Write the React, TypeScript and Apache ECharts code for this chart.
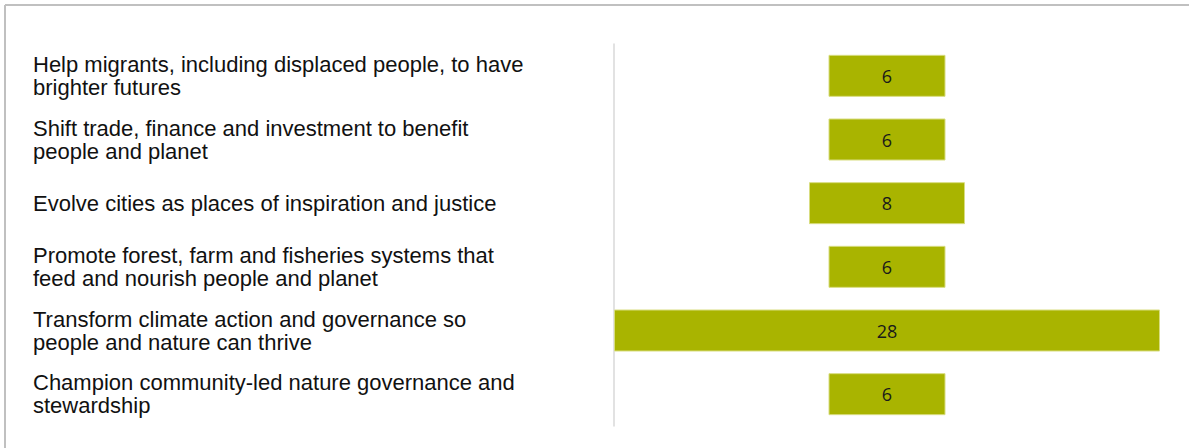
import React, { useEffect, useRef } from "react";
import * as echarts from "echarts";

const categories = [
  "Help migrants, including displaced people, to have\nbrighter futures",
  "Shift trade, finance and investment to benefit\npeople and planet",
  "Evolve cities as places of inspiration and justice",
  "Promote forest, farm and fisheries systems that\nfeed and nourish people and planet",
  "Transform climate action and governance so\npeople and nature can thrive",
  "Champion community-led nature governance and\nstewardship",
];
const values = [6, 6, 8, 6, 28, 6];
const maxValue = 28;

export default function App() {
  const ref = useRef<HTMLDivElement>(null);
  useEffect(() => {
    document.body.style.margin = "0";
    const chart = echarts.init(ref.current!, null, { renderer: "svg" });
    const offsets = values.map((v) => (maxValue - v) / 2);
    chart.setOption({
      animation: false,
      backgroundColor: "#ffffff",
      grid: { left: 614, right: 29, top: 44, bottom: 22 },
      xAxis: {
        type: "value",
        min: 0,
        max: maxValue,
        show: false,
      },
      yAxis: {
        type: "category",
        inverse: true,
        data: categories,
        axisLine: { show: true, lineStyle: { color: "#d9d9d9", width: 1.5 } },
        axisTick: { show: false },
        axisLabel: {
          align: "left",
          margin: 581,
          color: "#111111",
          fontFamily: "'Liberation Sans', Arial, sans-serif",
          fontSize: 22,
          lineHeight: 23,
        },
      },
      series: [
        {
          type: "bar",
          stack: "s",
          data: offsets,
          itemStyle: { color: "transparent" },
          barWidth: 42,
          silent: true,
        },
        {
          type: "bar",
          stack: "s",
          data: values,
          barWidth: 42,
          itemStyle: { color: "#a9b400", borderColor: "#d8dd80", borderWidth: 1 },
          label: {
            show: true,
            position: "inside",
            color: "#1a1a1a",
            fontFamily: "'Open Sans', 'Noto Sans', sans-serif",
            fontSize: 18,
            fontWeight: 500,
          },
        },
      ],
      graphic: [
        { type: "line", shape: { x1: 5, y1: 5, x2: 1189, y2: 5 }, style: { stroke: "#c0c0c0", lineWidth: 2 } },
        { type: "line", shape: { x1: 5, y1: 5, x2: 5, y2: 448 }, style: { stroke: "#c0c0c0", lineWidth: 2 } },
      ],
    });
    return () => chart.dispose();
  }, []);
  return <div ref={ref} style={{ width: 1189, height: 448 }} />;
}
